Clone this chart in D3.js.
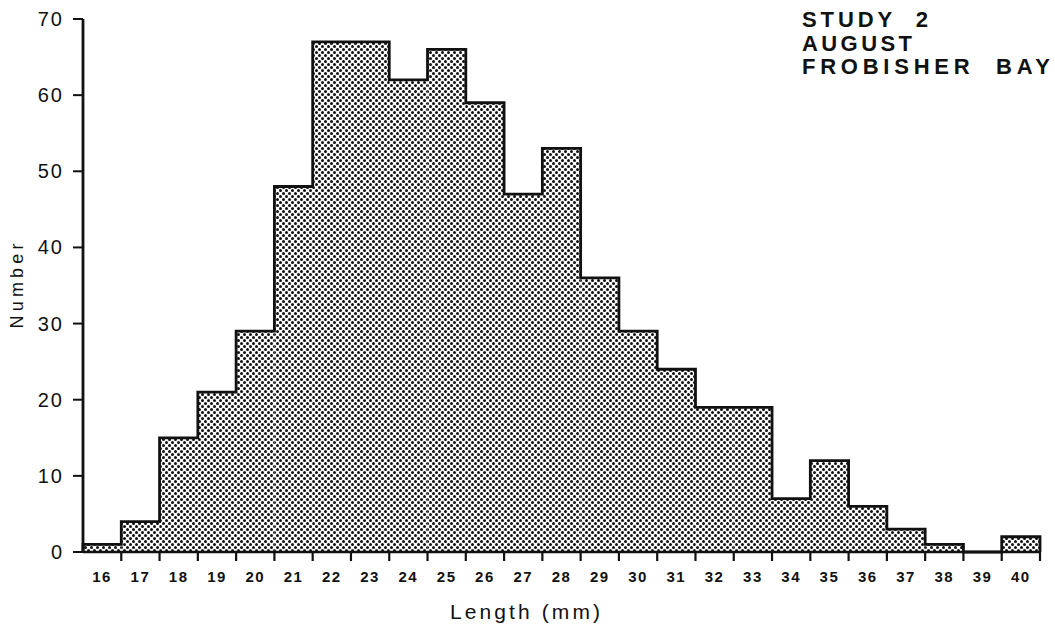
<!DOCTYPE html>
<html>
<head>
<meta charset="utf-8">
<script src="https://cdn.jsdelivr.net/npm/d3@7"></script>
<style>
  html, body { margin: 0; padding: 0; background: #fff; }
  svg { display: block; }
  text { font-family: "Liberation Sans", Arial, sans-serif; fill: #111; }
</style>
</head>
<body>
<svg id="chart" width="1055" height="628"></svg>
<script>
// Length-frequency data: one bin per millimetre
const lengths = [16, 17, 18, 19, 20, 21, 22, 23, 24, 25, 26, 27, 28, 29, 30, 31, 32, 33, 34, 35, 36, 37, 38, 39, 40];
const counts  = [1, 4, 15, 21, 29, 48, 67, 67, 62, 66, 59, 47, 53, 36, 29, 24, 19, 19, 7, 12, 6, 3, 1, 0, 2];
const yTicks  = [0, 10, 20, 30, 40, 50, 60, 70];
const titleLines = ["STUDY  2", "AUGUST", "FROBISHER  BAY"];

const svg = d3.select("#chart");
const plotLeft = 83, plotRight = 1040, plotTop = 19, plotBottom = 552;

const x = d3.scaleLinear().domain([16, 41]).range([plotLeft, plotRight]);
const y = d3.scaleLinear().domain([0, 70]).range([plotBottom, plotTop]);

// stipple fill
const defs = svg.append("defs");
const pat = defs.append("pattern")
  .attr("id", "stipple").attr("patternUnits", "userSpaceOnUse")
  .attr("width", 6).attr("height", 6);
pat.append("rect").attr("width", 6).attr("height", 6).attr("fill", "#fff");
pat.append("circle").attr("cx", 1.5).attr("cy", 1.5).attr("r", 1.5).attr("fill", "#111");
pat.append("circle").attr("cx", 4.5).attr("cy", 4.5).attr("r", 1.5).attr("fill", "#111");

const bins = lengths.map((l, i) => ({ l, n: counts[i] }));

// bars
svg.append("g").selectAll("rect").data(bins).join("rect")
  .attr("x", d => x(d.l))
  .attr("width", d => x(d.l + 1) - x(d.l))
  .attr("y", d => y(d.n))
  .attr("height", d => y(0) - y(d.n))
  .attr("fill", "url(#stipple)");

// histogram outline as a step path
const pts = [[x(16), y(0)]];
bins.forEach(d => { pts.push([x(d.l), y(d.n)]); pts.push([x(d.l + 1), y(d.n)]); });
pts.push([x(41), y(0)]);
svg.append("path")
  .attr("d", d3.line()(pts))
  .attr("fill", "none").attr("stroke", "#111").attr("stroke-width", 2.8)
  .attr("stroke-linejoin", "miter");

// x axis: ticks at bin edges, labels at bin centres
const xAxis = svg.append("g");
xAxis.append("line").attr("x1", plotLeft).attr("x2", plotRight).attr("y1", plotBottom).attr("y2", plotBottom)
  .attr("stroke", "#111").attr("stroke-width", 2.6);
xAxis.selectAll("line.tk").data(d3.range(17, 42)).join("line").attr("class", "tk")
  .attr("x1", d => x(d)).attr("x2", d => x(d))
  .attr("y1", plotBottom).attr("y2", plotBottom + 9)
  .attr("stroke", "#111").attr("stroke-width", 2.2);
xAxis.selectAll("text").data(lengths).join("text")
  .attr("x", d => x(d + 0.5)).attr("y", 582)
  .attr("text-anchor", "middle")
  .attr("font-size", 15).attr("font-weight", "bold").attr("letter-spacing", 1.5)
  .text(d => d);

// y axis
const yAxis = svg.append("g");
yAxis.append("line").attr("x1", plotLeft).attr("x2", plotLeft).attr("y1", plotTop).attr("y2", plotBottom)
  .attr("stroke", "#111").attr("stroke-width", 2.8);
yAxis.selectAll("line.tk").data(yTicks).join("line").attr("class", "tk")
  .attr("x1", plotLeft - 10).attr("x2", plotLeft)
  .attr("y1", d => y(d)).attr("y2", d => y(d))
  .attr("stroke", "#111").attr("stroke-width", 2);
yAxis.selectAll("text").data(yTicks).join("text")
  .attr("x", 64).attr("y", d => y(d) + 7)
  .attr("text-anchor", "end")
  .attr("font-size", 20).attr("letter-spacing", 2)
  .text(d => d);

// axis titles
svg.append("text")
  .attr("transform", "translate(23,286) rotate(-90)")
  .attr("text-anchor", "middle")
  .attr("font-size", 18).attr("textLength", 85).attr("lengthAdjust", "spacing")
  .text("Number");
svg.append("text")
  .attr("x", 450).attr("y", 619)
  .attr("font-size", 21).attr("textLength", 150).attr("lengthAdjust", "spacing")
  .text("Length (mm)");

// panel title
const titleWidths = [126, 110, 248];
svg.append("g").selectAll("text").data(titleLines).join("text")
  .attr("x", 802).attr("y", (d, i) => 27 + i * 23.5)
  .attr("font-size", 22).attr("font-weight", "bold")
  .attr("textLength", (d, i) => titleWidths[i]).attr("lengthAdjust", "spacing")
  .style("white-space", "pre")
  .text(d => d);
</script>
</body>
</html>
